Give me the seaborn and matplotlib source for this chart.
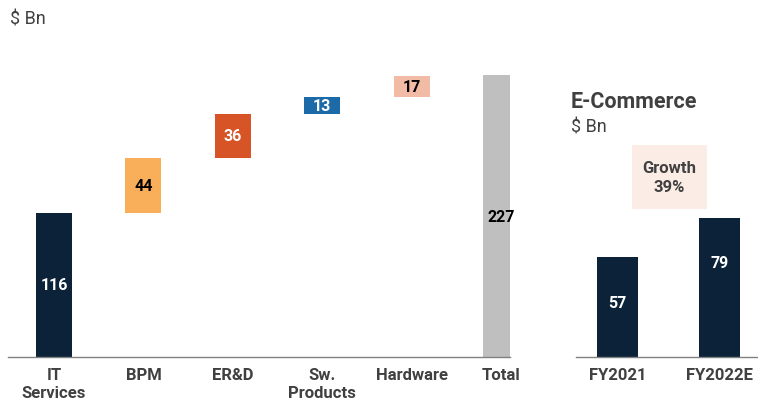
import matplotlib
matplotlib.use("Agg")
import matplotlib.pyplot as plt
from matplotlib.patches import Rectangle
import seaborn as sns
import pandas as pd

# Waterfall segments ($ Bn)
segments = ["IT\nServices", "BPM", "ER&D", "Sw.\nProducts", "Hardware", "Total"]
segment_values = [116, 44, 36, 13, 17, 227]
segment_colors = ["#0B2239", "#F9AF5A", "#D65426", "#1C6BA8", "#F2BBA5", "#BFBFBF"]
label_colors = ["white", "black", "white", "white", "black", "black"]

# E-Commerce ($ Bn)
years = ["FY2021", "FY2022E"]
ecommerce_values = [57, 79]
growth_text = "Growth\n39%"

sns.set_theme(style="white")
plt.rcParams["font.family"] = ["Roboto", "DejaVu Sans"]

TEXT = "#404040"
AXIS = "#808080"

fig = plt.figure(figsize=(7.58, 4.02), dpi=100)
W, H = 758, 402

def px_axes(x0, x1, y_base, height_px):
    return fig.add_axes([x0 / W, (H - y_base) / H, (x1 - x0) / W, height_px / H])

# ---- waterfall ----
ax = px_axes(8, 510, 358, 298)
bases = []
running = 0
for i, v in enumerate(segment_values):
    if i == len(segment_values) - 1:
        bases.append(0)
    else:
        bases.append(running)
        running += v

for cat, v, b, c in zip(segments, segment_values, bases, segment_colors):
    sns.barplot(x=[cat], y=[v], order=segments, color=c, width=0.40,
                bottom=b, saturation=1, ax=ax, linewidth=0)

for i, (v, b, lc) in enumerate(zip(segment_values, bases, label_colors)):
    ax.text(i, b + v / 2, str(v), ha="center", va="center", color=lc,
            fontsize=11.5, fontweight="bold", zorder=5)

ax.set_xlim(-0.514, 5.1)
ax.set_ylim(0, 240)

# ---- e-commerce ----
ax2 = px_axes(576, 758, 358, 228)
df = pd.DataFrame({"year": years, "value": ecommerce_values})
sns.barplot(data=df, x="year", y="value", order=years, color="#0B2239",
            width=0.40, saturation=1, ax=ax2, linewidth=0)
label_frac = [0.55, 0.685]
for i, v in enumerate(ecommerce_values):
    ax2.text(i, v * label_frac[i], str(v), ha="center", va="center",
             color="white", fontsize=11.5, fontweight="bold", zorder=5)
ax2.set_xlim(-0.41, 1.38)
ax2.set_ylim(0, 130)
ax2.add_patch(Rectangle((0.138, 84.3), 0.739, 36.5, facecolor="#FBECE6",
                        edgecolor="none", clip_on=False, zorder=0))
ax2.text(0.507, 102.5, growth_text, ha="center", va="center", color=TEXT,
         fontsize=12, fontweight="bold", linespacing=1.3)

for a in (ax, ax2):
    sns.despine(ax=a, left=True)
    a.spines["bottom"].set_color(AXIS)
    a.spines["bottom"].set_linewidth(1.0)
    a.set_yticks([])
    a.set_xlabel("")
    a.set_ylabel("")
    a.tick_params(axis="x", length=0, pad=7, labelsize=12, labelcolor=TEXT)
    for t in a.get_xticklabels():
        t.set_fontweight("bold")
        t.set_va("top")
        t.set_linespacing(1.3)
    a.patch.set_alpha(0)

# headings
fig.text(10 / W, 1 - 19 / H, "$ Bn", ha="left", va="center", color=TEXT, fontsize=13)
fig.text(571 / W, 1 - 102 / H, "E-Commerce", ha="left", va="center", color=TEXT,
         fontsize=15.5, fontweight="bold")
fig.text(571 / W, 1 - 128 / H, "$ Bn", ha="left", va="center", color=TEXT, fontsize=13)

fig.savefig("out.png", dpi=100, facecolor="white")
